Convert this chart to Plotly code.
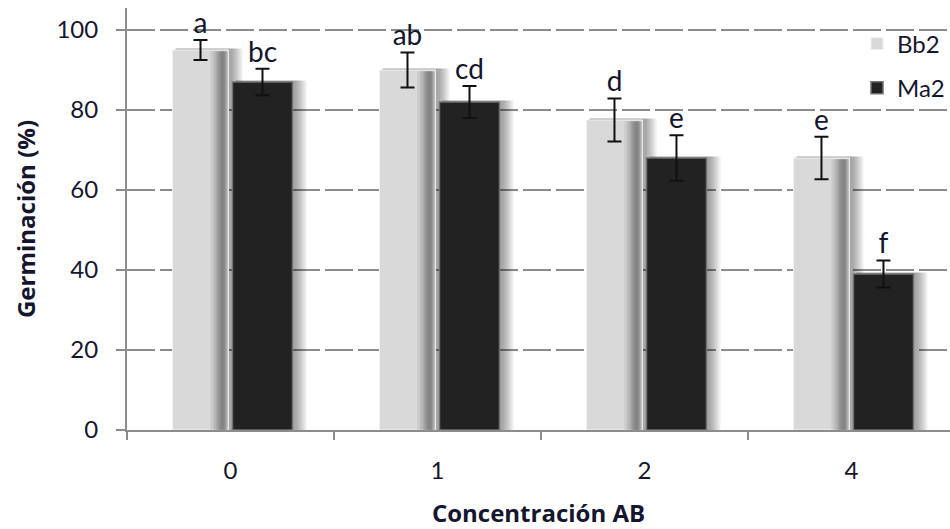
import plotly.graph_objects as go

# Germination (%) by AB concentration for two isolates
concentraciones = ["0", "1", "2", "4"]
bb2_vals = [95, 90, 77.5, 68]
bb2_err = [2.5, 4.4, 5.4, 5.3]
bb2_letras = ["a", "ab", "d", "e"]
ma2_vals = [87, 82, 68, 39]
ma2_err = [3.3, 4.0, 5.7, 3.4]
ma2_letras = ["bc", "cd", "e", "f"]

xs = list(range(len(concentraciones)))

TXT = "#15152e"
FONT = "Lato"
TITLE_FONT = "Open Sans"
PX = 1 / 207.0  # one pixel in category units

# bar geometry (axis units, category width = 1)
BB2_OFF, BB2_W = -58 * PX, 56 * PX
MA2_OFF, MA2_W = 2 * PX, 60 * PX

fig = go.Figure()


def shadow(vals, off, w):
    # soft drop shadow spreading to the right of each bar
    for k in range(6):
        fig.add_trace(go.Bar(x=xs, y=[v + 0.35 for v in vals], offset=off + 3 * PX,
                             width=w + (1 + 2 * k) * PX,
                             marker=dict(color="rgba(0,0,0,0.065)", line_width=0),
                             showlegend=False, hoverinfo="skip"))


shadow(bb2_vals, BB2_OFF, BB2_W)
shadow(ma2_vals, MA2_OFF, MA2_W)

# Bb2: light grey body
fig.add_trace(go.Bar(x=xs, y=bb2_vals, offset=BB2_OFF, width=BB2_W, name="Bb2",
                     legendgroup="bb2",
                     marker=dict(color="#d9d9d9", line=dict(color="#f2f2f2", width=1))))
# darker rounded edge on the right side of the light bars (pixels from the right edge)
for start, end, a in [(18, 0, 0.10), (15, 1, 0.14), (12, 2, 0.18), (10, 3, 0.18), (8, 4, 0.15)]:
    fig.add_trace(go.Bar(x=xs, y=[v - 0.3 for v in bb2_vals],
                         offset=BB2_OFF + BB2_W - start * PX, width=(start - end) * PX,
                         marker=dict(color=f"rgba(70,70,70,{a})", line_width=0),
                         showlegend=False, hoverinfo="skip"))

# Ma2: dark body
fig.add_trace(go.Bar(x=xs, y=ma2_vals, offset=MA2_OFF, width=MA2_W, name="Ma2",
                     legendgroup="ma2",
                     marker=dict(color="#222222", line=dict(color="#707070", width=1.5))))

bb2_x = [x + BB2_OFF + BB2_W / 2 for x in xs]
ma2_x = [x + MA2_OFF + MA2_W / 2 for x in xs]

# error bars
for cx, vals, errs in [(bb2_x, bb2_vals, bb2_err), (ma2_x, ma2_vals, ma2_err)]:
    fig.add_trace(go.Scatter(x=cx, y=vals, mode="markers",
                             marker=dict(size=0.1, color="rgba(0,0,0,0)"),
                             error_y=dict(type="data", array=errs, color="#111111",
                                          thickness=2, width=7),
                             showlegend=False, hoverinfo="skip"))

# significance letters
for cx, vals, errs, labels in [(bb2_x, bb2_vals, bb2_err, bb2_letras),
                               (ma2_x, ma2_vals, ma2_err, ma2_letras)]:
    fig.add_trace(go.Scatter(x=cx, y=[v + e for v, e in zip(vals, errs)],
                             mode="text", text=labels, textposition="top center",
                             textfont=dict(family=FONT, size=28, color=TXT),
                             showlegend=False, hoverinfo="skip"))

fig.update_layout(
    width=950, height=529,
    margin=dict(l=127, r=0, t=8, b=99),
    barmode="overlay",
    plot_bgcolor="white", paper_bgcolor="white",
    font=dict(family=FONT, color=TXT),
    legend=dict(x=0.887, y=0.968, xanchor="left", yanchor="top",
                bgcolor="rgba(0,0,0,0)", font=dict(size=24, color=TXT),
                tracegroupgap=10, traceorder="grouped"),
    xaxis=dict(range=[-0.5, 3.476], tickmode="array", tickvals=xs, ticktext=concentraciones,
               ticks="", showgrid=False, zeroline=False,
               showline=True, linecolor="#8c8c8c", linewidth=2,
               tickfont=dict(size=24, color=TXT), ticklabelstandoff=18,
               minor=dict(tickmode="linear", tick0=-0.5, dtick=1, ticks="outside",
                          ticklen=8, tickcolor="#8c8c8c", tickwidth=2, showgrid=False),
               title=dict(text="<b>Concentración AB</b>",
                          font=dict(family=TITLE_FONT, size=24, color=TXT),
                          standoff=23)),
    yaxis=dict(range=[0, 105.5], tickvals=[0, 20, 40, 60, 80, 100],
               ticks="outside", ticklen=9, tickcolor="#8c8c8c", tickwidth=2,
               showline=True, linecolor="#8c8c8c", linewidth=2, zeroline=False,
               showgrid=True, gridcolor="#8c8c8c", gridwidth=2, griddash="28px,5px",
               tickfont=dict(size=24, color=TXT), ticklabelstandoff=13,
               title=dict(text="<b>Germinación (%)</b>",
                          font=dict(family=TITLE_FONT, size=24, color=TXT),
                          standoff=14)),
)

fig.write_html("out.html")
